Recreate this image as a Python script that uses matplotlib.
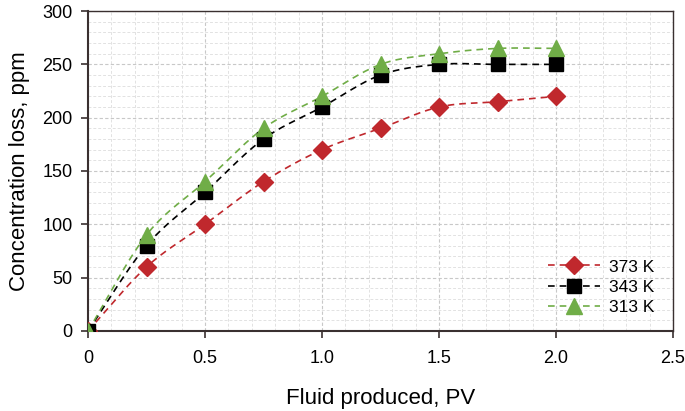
import matplotlib
matplotlib.use("Agg")
import matplotlib.pyplot as plt
import numpy as np
from matplotlib.ticker import MultipleLocator

plt.rcParams["font.family"] = ["Liberation Sans", "DejaVu Sans"]

pv = [0, 0.25, 0.5, 0.75, 1.0, 1.25, 1.5, 1.75, 2.0]
loss_373 = [0, 60, 100, 140, 170, 190, 210, 215, 220]
loss_343 = [0, 80, 130, 180, 210, 240, 250, 250, 250]
loss_313 = [0, 90, 140, 190, 220, 250, 260, 265, 265]


def smooth(x, y, n=20):
    # Catmull-Rom, close to the smoothed lines of spreadsheet charts
    x = np.asarray(x, float)
    y = np.asarray(y, float)
    px = np.concatenate([[2 * x[0] - x[1]], x, [2 * x[-1] - x[-2]]])
    py = np.concatenate([[2 * y[0] - y[1]], y, [2 * y[-1] - y[-2]]])
    t = np.linspace(0, 1, n)[:, None]
    xs, ys = [], []
    for i in range(1, len(px) - 2):
        for p, out in ((px, xs), (py, ys)):
            p0, p1, p2, p3 = p[i - 1], p[i], p[i + 1], p[i + 2]
            seg = 0.5 * (2 * p1 + (-p0 + p2) * t + (2 * p0 - 5 * p1 + 4 * p2 - p3) * t ** 2
                         + (-p0 + 3 * p1 - 3 * p2 + p3) * t ** 3)
            out.append(seg.ravel())
    return np.concatenate(xs), np.concatenate(ys)


fig = plt.figure(figsize=(6.85, 4.11), dpi=100)
ax = fig.add_axes([0.1285, 0.195, 0.8540, 0.778])

series = [
    (loss_373, "373 K", "#C0282D", "D", 9),
    (loss_343, "343 K", "#000000", "s", 10),
    (loss_313, "313 K", "#70AD47", "^", 11),
]
for y, label, color, marker, ms in series:
    sx, sy = smooth(pv, y)
    ax.plot(sx, sy, color=color, ls=(0, (4, 3)), lw=1.2, zorder=3)
    ax.plot(pv, y, ls="none", marker=marker, ms=ms, color=color,
            markeredgecolor=color, zorder=4)
    ax.plot([], [], color=color, ls=(0, (4, 3)), lw=1.2, marker=marker, ms=ms,
            label=label)

ax.set_xlim(0, 2.5)
ax.set_ylim(0, 300)
ax.xaxis.set_major_locator(MultipleLocator(0.5))
ax.xaxis.set_minor_locator(MultipleLocator(0.1))
ax.yaxis.set_major_locator(MultipleLocator(50))
ax.yaxis.set_minor_locator(MultipleLocator(10))
ax.set_xticks([0, 0.5, 1.0, 1.5, 2.0, 2.5], ["0", "0.5", "1.0", "1.5", "2.0", "2.5"])

ax.grid(which="major", color="#c8c8c8", ls=(0, (3, 2)), lw=0.8)
ax.grid(which="minor", color="#e2e2e2", ls=(0, (3, 2)), lw=0.7)
ax.tick_params(which="minor", length=0)
ax.tick_params(which="major", direction="out", length=5, width=1.2,
               color="#3a3030", labelsize=13)
ax.tick_params(axis="x", pad=9)
ax.tick_params(axis="y", pad=6)
for side in ["left", "bottom"]:
    ax.spines[side].set_color("#3a3030")
    ax.spines[side].set_linewidth(1.5)
for side in ["right", "top"]:
    ax.spines[side].set_color("#3a3030")
    ax.spines[side].set_linewidth(1.0)

ax.set_xlabel("Fluid produced, PV", fontsize=16, labelpad=15)
ax.set_ylabel("Concentration loss, ppm", fontsize=16, labelpad=9)

ax.legend(loc="lower right", bbox_to_anchor=(0.995, 0.0), frameon=False,
          fontsize=12.5, handlelength=3.0, labelspacing=0.3, handletextpad=0.5)

fig.savefig("out.png", dpi=100)
